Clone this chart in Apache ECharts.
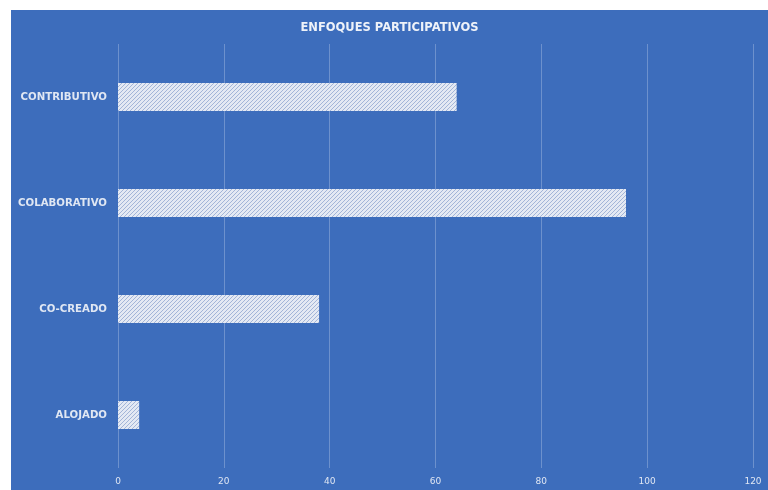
<!DOCTYPE html>
<html>
<head>
<meta charset="utf-8">
<script src="https://cdn.jsdelivr.net/npm/echarts@6/dist/echarts.min.js"></script>
<style>
  html, body { margin: 0; padding: 0; background: #fff; }
  #main { position: absolute; left: 11px; top: 10px; width: 757px; height: 480px; }
</style>
</head>
<body>
<div id="main"></div>
<script>
// datos del gráfico
var categorias = ['CONTRIBUTIVO', 'COLABORATIVO', 'CO-CREADO', 'ALOJADO'];
var valores = [64, 96, 38, 4];
var ticksX = [0, 20, 40, 60, 80, 100, 120];

// trama rayada de las barras
function trama() {
  var c = document.createElement('canvas');
  c.width = 4; c.height = 4;
  var ctx = c.getContext('2d');
  ctx.fillStyle = '#e4e9f3';
  ctx.fillRect(0, 0, 4, 4);
  ctx.strokeStyle = '#a3b5d8';
  ctx.lineWidth = 1;
  ctx.beginPath();
  ctx.moveTo(-1, 5); ctx.lineTo(5, -1);
  ctx.moveTo(-1, 1); ctx.lineTo(1, -1);
  ctx.moveTo(3, 5); ctx.lineTo(5, 3);
  ctx.stroke();
  return c;
}

var myChart = echarts.init(document.getElementById('main'));
myChart.setOption({
  backgroundColor: '#3d6dbc',
  animation: false,
  title: {
    text: 'ENFOQUES PARTICIPATIVOS',
    left: 'center',
    top: 7,
    textStyle: { color: '#eef2f9', fontSize: 11.5, fontWeight: 'bold', fontFamily: 'DejaVu Sans' }
  },
  grid: { left: 107, right: 15, top: 34, bottom: 22 },
  xAxis: {
    type: 'value',
    min: ticksX[0],
    max: ticksX[ticksX.length - 1],
    interval: 20,
    axisLine: { show: false },
    axisTick: { show: false },
    axisLabel: { color: '#dfe6f3', fontSize: 9, fontFamily: 'DejaVu Sans', margin: 9 },
    splitLine: { lineStyle: { color: 'rgba(255,255,255,0.25)', width: 1 } }
  },
  yAxis: {
    type: 'category',
    data: categorias,
    inverse: true,
    axisLine: { show: false },
    axisTick: { show: false },
    axisLabel: { color: '#e0e7f3', fontSize: 10.2, fontWeight: 'bold', fontFamily: 'DejaVu Sans', margin: 11 }
  },
  series: [{
    type: 'bar',
    data: valores,
    barWidth: 28,
    itemStyle: { color: { image: trama(), repeat: 'repeat' } }
  }]
});
</script>
</body>
</html>
